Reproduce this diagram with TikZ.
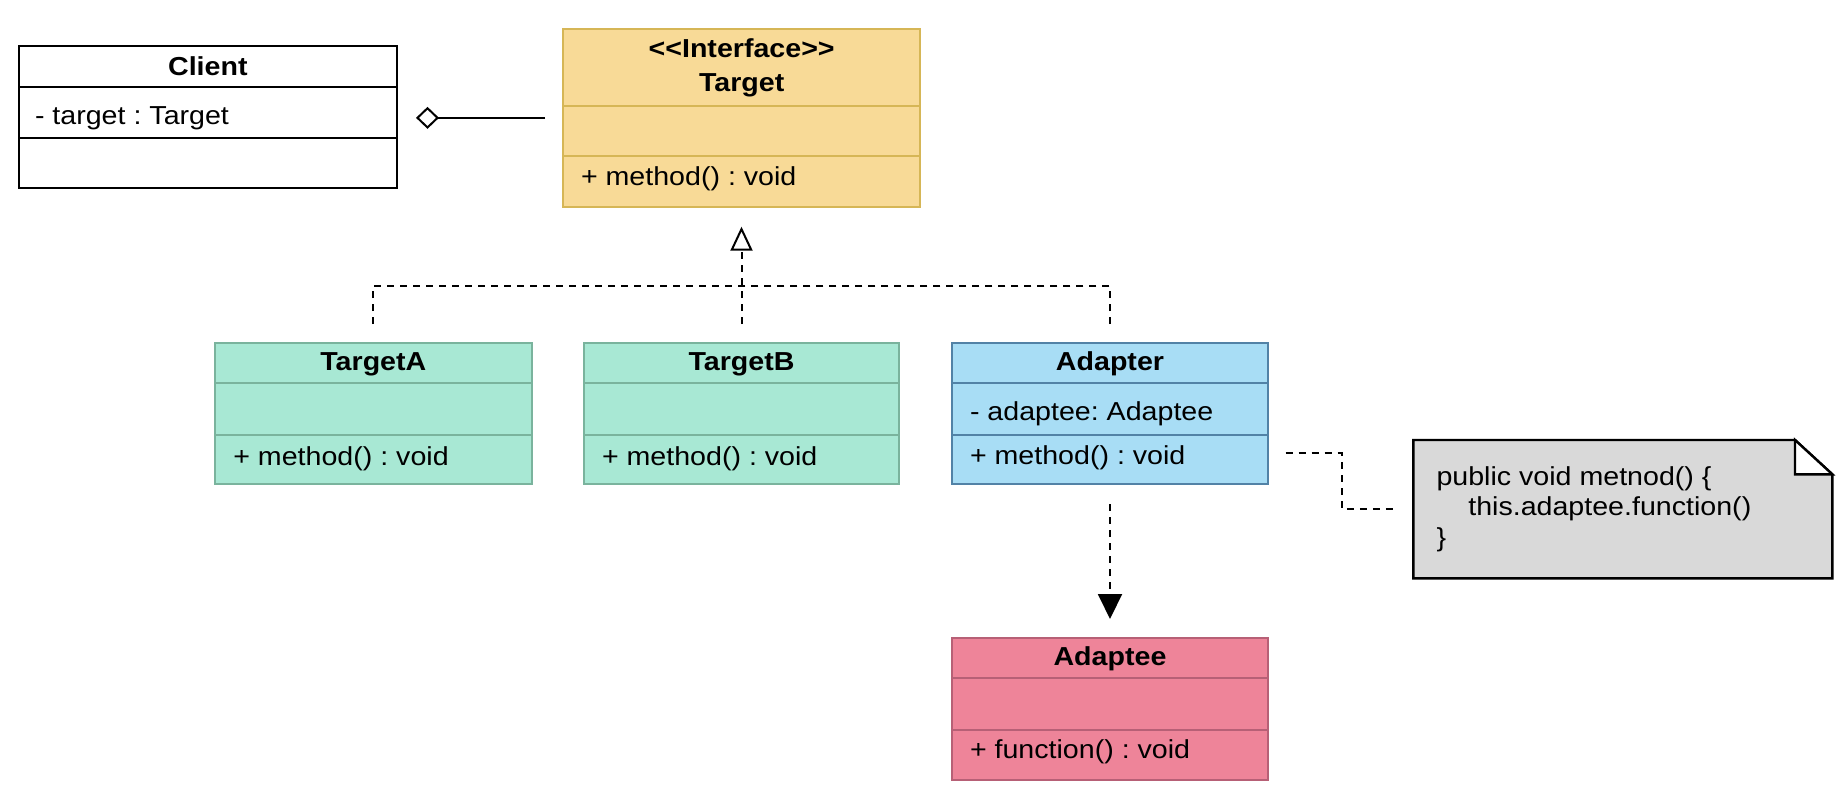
\documentclass[tikz,border=0pt]{standalone}
\usepackage{fontspec}
\setmainfont{Liberation Sans}[FakeStretch=1.1]
\usetikzlibrary{arrows.meta}
\frenchspacing

\definecolor{ifacefill}{HTML}{F8DA97}
\definecolor{ifaceline}{HTML}{D6B656}
\definecolor{implfill}{HTML}{A8E8D4}
\definecolor{implline}{HTML}{7AB39D}
\definecolor{adapterfill}{HTML}{A8DDF5}
\definecolor{adapterline}{HTML}{5282A6}
\definecolor{adapteefill}{HTML}{EE8499}
\definecolor{adapteeline}{HTML}{B76076}
\definecolor{notefill}{HTML}{D9D9D9}

% #1 name, #2 style, #3 left, #4 top, #5 right, #6 first divider, #7 second divider, #8 bottom
\newcommand{\umlclass}[8]{%
  \node[#2, anchor=north west, minimum width={(#5-#3)*0.5pt}, minimum height={(#8-#4)*0.5pt}] (#1) at (#3,#4) {};
  \draw[#2, fill=none] (#3,#6) -- (#5,#6) (#3,#7) -- (#5,#7);
}

\begin{document}
\begin{tikzpicture}[x=0.5pt, y=-0.5pt,
  every node/.style={font=\fontsize{13pt}{15.5pt}\selectfont, inner sep=0pt, outer sep=0pt},
  boxframe/.style={draw, line width=0.9pt, inner sep=0pt, outer sep=0pt},
  clientbox/.style={boxframe, draw=black, fill=white},
  ifacebox/.style={boxframe, draw=ifaceline, fill=ifacefill},
  implbox/.style={boxframe, draw=implline, fill=implfill},
  adapterbox/.style={boxframe, draw=adapterline, fill=adapterfill},
  adapteebox/.style={boxframe, draw=adapteeline, fill=adapteefill},
  title/.style={anchor=base, font=\fontsize{13pt}{15.5pt}\selectfont\bfseries},
  member/.style={anchor=base west},
  conn/.style={line width=1pt, draw=black},
  dashconn/.style={conn, dash pattern=on 3.5pt off 3pt},
  aggregation/.style={conn, -{Diamond[open, length=11.5pt, width=11pt, line width=1pt]}},
  realization/.style={dashconn, -{Triangle[open, length=12pt, width=11pt, line width=1pt]}},
  dependency/.style={dashconn, -{Triangle[length=12.5pt, width=12pt]}},
]
\useasboundingbox[fill=white] (0,0) rectangle (1846,802);

% class boxes
\umlclass{client}{clientbox}{19}{46}{396.7}{87.3}{137.7}{188.3}
\umlclass{target}{ifacebox}{563.3}{29}{920}{105.7}{156}{206.7}
\umlclass{targetA}{implbox}{215}{343.3}{531.7}{383.3}{435}{484}
\umlclass{targetB}{implbox}{584}{343.3}{899}{383.3}{435}{484}
\umlclass{adapter}{adapterbox}{952.3}{343.3}{1267.7}{383.3}{435}{484}
\umlclass{adaptee}{adapteebox}{952.3}{638.3}{1267.7}{678.3}{730}{780}

% class texts
\node[title] (client-name) at (207.85,76) {Client};
\node[member] (client-attr) at (35,125) {- target : Target};

\node[title] (target-stereo) at (741.65,57.5) {<\kern0pt<Interface>\kern0pt>};
\node[title] (target-name) at (741.65,91.5) {Target};
\node[member] (target-op) at (581,185.7) {+ method() : void};

\node[title] (targetA-name) at (373.35,370.7) {TargetA};
\node[member] (targetA-op) at (233.3,465) {+ method() : void};

\node[title] (targetB-name) at (741.5,370.7) {TargetB};
\node[member] (targetB-op) at (602,465) {+ method() : void};

\node[title] (adapter-name) at (1110,370.7) {Adapter};
\node[member] (adapter-attr) at (970,420.7) {- adaptee: Adaptee};
\node[member] (adapter-op) at (970,464) {+ method() : void};

\node[title] (adaptee-name) at (1110,665) {Adaptee};
\node[member] (adaptee-op) at (970,758.3) {+ function() : void};

% note with folded corner
\node[anchor=north west, minimum width=209.5pt, minimum height=69.15pt] (note) at (1413.3,440) {};
\filldraw[fill=notefill, draw=black, line width=1.2pt, line join=miter]
  (note.north west) -- ([xshift=-18.65pt]note.north east) -- ([yshift=-17.15pt]note.north east)
  -- (note.south east) -- (note.south west) -- cycle;
\filldraw[fill=white, draw=black, line width=1.2pt, line join=miter]
  ([xshift=-18.65pt]note.north east) -- ([yshift=-17.15pt]note.north east)
  -- ([xshift=-18.65pt, yshift=-17.15pt]note.north east) -- cycle;
\node[member] (note-l1) at (1436.5,485) {public void metnod() \{};
\node[member] (note-l2) at (1468.3,515.5) {this.adaptee.function()};
\node[member] (note-l3) at (1436.5,546.5) {\}};

% connectors
\draw[aggregation, shorten <=9.15pt, shorten >=9.65pt]
  (target.west) -- (target.west -| client.east);

\coordinate (bus) at (741.5,285.7);
\draw[realization, shorten <=9.65pt, shorten >=10pt]
  (targetB.north) -- (targetB.north |- target.south);
\draw[dashconn, shorten <=9.65pt] (targetA.north) |- (bus);
\draw[dashconn, shorten <=9.65pt] (adapter.north) |- (bus);

\draw[dependency, shorten <=10pt, shorten >=9.65pt] (adapter.south) -- (adaptee.north);

\draw[dashconn, shorten <=9pt, shorten >=8.4pt]
  ([yshift=-19.8pt]adapter.east) -- ++(73.9,0) |- (note.west);
\end{tikzpicture}
\end{document}
